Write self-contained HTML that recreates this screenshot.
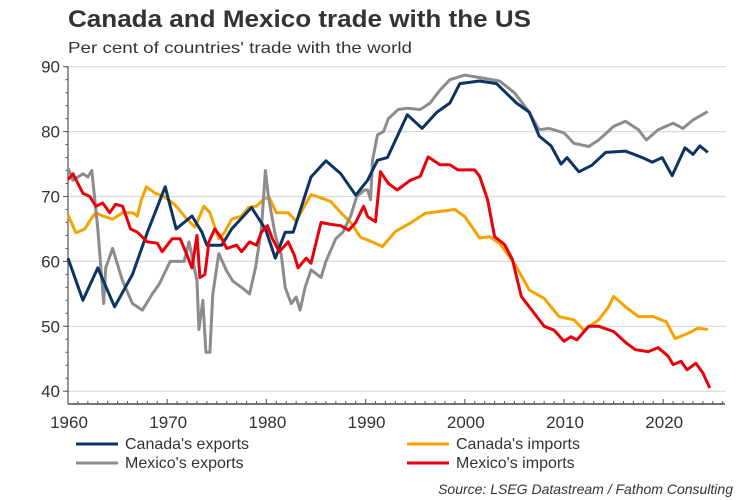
<!DOCTYPE html>
<html><head><meta charset="utf-8"><style>
body{margin:0;background:#fff;}
svg{display:block;font-family:"Liberation Sans",Arial,sans-serif;}
</style></head><body>
<svg id="chart" width="750" height="500" viewBox="0 0 750 500">
<text x="68" y="27" font-size="24" font-weight="bold" fill="#333" textLength="463" lengthAdjust="spacingAndGlyphs">Canada and Mexico trade with the US</text>
<text x="68" y="53" font-size="16" fill="#333" textLength="344" lengthAdjust="spacingAndGlyphs">Per cent of countries' trade with the world</text>
<g id="grid"></g>
<g id="axes"></g>
<g id="series"></g>
<g id="legend"></g>
<text x="733" y="494" font-size="14" font-style="italic" fill="#333" text-anchor="end">Source: LSEG Datastream / Fathom Consulting</text>
</svg>
<script>
const yTicks=[40,50,60,70,80,90];
const xTicks=[1960,1970,1980,1990,2000,2010,2020];
const caExpYears=[1960,1961.5,1963,1964.7,1966.5,1968,1969.8,1970.9,1972.5,1973.5,1974,1975.5,1976.5,1978.5,1979.9,1980.9,1981.9,1982.7,1984.5,1986,1987.5,1989,1990.2,1991.2,1992.2,1994.2,1995.7,1997.2,1998.5,1999.5,2001.5,2003.2,2005.2,2006.5,2007.5,2008.7,2009.7,2010.3,2011.5,2012.8,2014.2,2016.2,2017.9,2018.9,2019.9,2020.9,2022.2,2023,2023.7,2024.5];
const caExpVals=[60.5,54,59,53,58,64.5,71.5,65,67,64.5,62.5,62.5,65,68.3,65,60.5,64.5,64.5,73,75.5,73.5,70.2,72.5,75.6,76,82.6,80.5,83,84.4,87.4,87.8,87.4,84.4,83,79.3,77.8,75,76,73.8,74.8,76.8,77,76,75.3,76,73.2,77.5,76.5,77.8,76.8];
const mxExpYears=[1960,1960.5,1961.5,1962,1962.4,1963,1963.6,1963.8,1964.5,1965.5,1966.5,1967.5,1968.5,1969.2,1970.3,1971.7,1972.2,1973,1973.2,1973.6,1973.9,1974.3,1974.6,1975.2,1976,1976.6,1977.5,1978.3,1978.9,1979.5,1979.9,1980.2,1980.9,1981.5,1981.9,1982.5,1983,1983.4,1983.9,1984.5,1985.5,1986,1987,1987.7,1988.5,1989.1,1989.9,1990.2,1990.5,1990.7,1991.2,1991.8,1992.3,1993.3,1994.2,1995.5,1996.5,1997.5,1998.5,2000,2002,2003.5,2005,2006.3,2007.5,2008.5,2010,2011,2012.5,2013.5,2015,2016.2,2017.5,2018.3,2019.5,2021,2022,2023,2024.5];
const mxExpVals=[74.4,72.5,73.5,73,74,65,53.5,59,62,57,53.5,52.5,55,56.5,60,60,63,57,49.5,54,46,46,55,61.2,58.5,57,56,55,59,65,74,70,64,61,56,53.5,54.5,52.5,56,58.7,57.5,60,63.5,64.5,67,70,71,71,69.5,75.6,79.5,80,82,83.4,83.6,83.4,84.4,86.4,88,88.7,88.2,87.8,86,83.4,80.3,80.5,79.8,78.2,77.7,78.7,80.8,81.6,80.3,78.7,80.3,81.3,80.5,81.8,83.1];
const caImpYears=[1960,1960.8,1961.7,1962.3,1962.8,1963.5,1964.5,1965.5,1966.5,1967,1967.4,1967.9,1968.8,1969.7,1970.8,1972,1972.8,1973.7,1974.3,1975.2,1975.8,1976.5,1977.5,1978.2,1979,1979.8,1980.3,1981,1982.2,1983,1984,1984.5,1985.5,1986.5,1987.5,1988.5,1989.5,1990.2,1991.7,1993,1994.5,1996,1997.5,1999,2000,2001.5,2002.5,2003.5,2005,2006.5,2008,2009.5,2011,2012,2013.5,2014.5,2015,2016.2,2017.5,2019,2020.3,2021.2,2022.5,2023.5,2024.5];
const caImpVals=[67.2,64.4,65,66.5,67.5,67,66.5,67.5,67.5,67,69.5,71.5,70.5,70,68.7,66.5,65.3,68.5,67.5,63.5,64.5,66.5,67,68.3,68.5,69.7,69.8,67.5,67.5,66.2,69,70.3,69.8,69.2,67.5,66,63.7,63.3,62.3,64.6,65.9,67.4,67.7,68,66.9,63.6,63.8,62.8,59.7,55.6,54.3,51.5,51,49.4,51,53,54.6,53,51.5,51.5,50.7,48.1,48.9,49.7,49.5];
const mxImpYears=[1960,1960.5,1961.5,1962.2,1962.8,1963.5,1964.2,1964.8,1965.5,1966.3,1967,1968,1969,1969.5,1970.5,1971.3,1972,1972.5,1973,1973.3,1973.8,1974.2,1974.8,1975.5,1976,1977,1977.5,1978.3,1979,1979.5,1980.1,1980.6,1981.3,1982.2,1982.8,1983.2,1984,1984.5,1985.5,1986.5,1987.5,1988.3,1989,1989.8,1990.2,1991,1991.5,1992.3,1993.2,1994.5,1995.5,1996.3,1997.5,1998.5,1999.3,2001,2001.5,2002.3,2003,2004,2004.8,2005.7,2006.5,2008,2009,2010,2010.7,2011.3,2012.5,2013.5,2015,2016.3,2017.2,2018.5,2019.5,2020.5,2021,2021.8,2022.4,2023.3,2024,2024.7];
const mxImpVals=[72.6,73.5,70.5,70,68.5,69,67.5,68.8,68.5,65,64.5,63,62.8,61.5,63.5,63.5,61,59,64,57.5,58,63,65,63.5,62,62.5,61.5,63,62.5,64.5,65.5,63.5,61.5,63,61,59,60.5,59.7,66,65.7,65.5,64.8,66,68.5,66.9,66.1,73.8,72,71,72.5,73.1,76.1,74.9,74.9,74.1,74.1,73.1,69.5,63.8,62.6,60.3,54.6,53,50,49.4,47.7,48.4,47.9,50,50,49.2,47.4,46.4,46.1,46.7,45.4,44.1,44.6,43.3,44.3,42.8,40.5];
const seriesNames=["Canada's exports","Canada's imports","Mexico's exports","Mexico's imports"];

const NS="http://www.w3.org/2000/svg";
const X0=68,X1=726,Y0=404;
function xs(yr){return 68+(yr-1960)*9.92;}
function ys(v){return 66.7+(90-v)*6.49;}
function mk(tag,attrs,parent){const e=document.createElementNS(NS,tag);for(const k in attrs)e.setAttribute(k,attrs[k]);parent.appendChild(e);return e;}
const grid=document.getElementById('grid'),axes=document.getElementById('axes'),ser=document.getElementById('series'),leg=document.getElementById('legend');
yTicks.forEach(t=>{
  const l=mk('line',{x1:X0,x2:X1,y1:ys(t),y2:ys(t),stroke:'#d9d9d9','stroke-width':1.2},grid);
  
  
  const tl=mk('line',{x1:X0-5,x2:X0,y1:ys(t),y2:ys(t),stroke:'#555'},axes);
  
  
  const tx=mk('text',{x:X0-8,y:ys(t)+6,'font-size':17,fill:'#333','text-anchor':'end'},axes);
  tx.textContent=t;
  
  
});
for(let v=40;v<=90;v+=2){const m=mk('line',{x1:X0-2.5,x2:X0,y1:ys(v),y2:ys(v),stroke:'#555'},axes);
  
  }
const ya=mk('line',{x1:X0,x2:X0,y1:ys(90),y2:Y0,stroke:'#555','stroke-width':1.2},axes);


const xa=mk('line',{x1:X0,x2:725,y1:Y0,y2:Y0,stroke:'#777','stroke-width':2},axes);


for(let yr=1960;yr<=2026;yr++){const m=mk('line',{x1:xs(yr),x2:xs(yr),y1:Y0,y2:Y0-(yr%10===0?5:3),stroke:'#555'},axes);
  
  }
xTicks.forEach(t=>{const tx=mk('text',{x:xs(t)+1,y:428,'font-size':17,fill:'#333','text-anchor':'middle'},axes);
  tx.textContent=t;
  
  });
function drawLine(yrs,vals,color,name){
  const d=yrs.map((y,i)=>(i?'L':'M')+xs(y).toFixed(1)+','+ys(vals[i]).toFixed(1)).join('');
  const p=mk('path',{d:d,fill:'none',stroke:color,'stroke-width':3,'stroke-linejoin':'round'},ser);
  
  
}
drawLine(caImpYears,caImpVals,'#f5a300','line-canada-imports');
drawLine(mxExpYears,mxExpVals,'#8c8c8c','line-mexico-exports');
drawLine(caExpYears,caExpVals,'#0b3463','line-canada-exports');
drawLine(mxImpYears,mxImpVals,'#e8000b','line-mexico-imports');
const legColors=['#0b3463','#f5a300','#8c8c8c','#e8000b'];
const legPos=[[76,449],[407,449],[76,468],[407,468]];
seriesNames.forEach((n,i)=>{
  const [lx,ly]=legPos[i];
  const g=mk('g',{},leg);
  
  
  mk('line',{x1:lx,x2:lx+42,y1:ly-5,y2:ly-5,stroke:legColors[i],'stroke-width':3},g);
  const t=mk('text',{x:lx+49,y:ly,'font-size':16,fill:'#333'},g);
  t.textContent=n;
});
</script>
</body></html>
